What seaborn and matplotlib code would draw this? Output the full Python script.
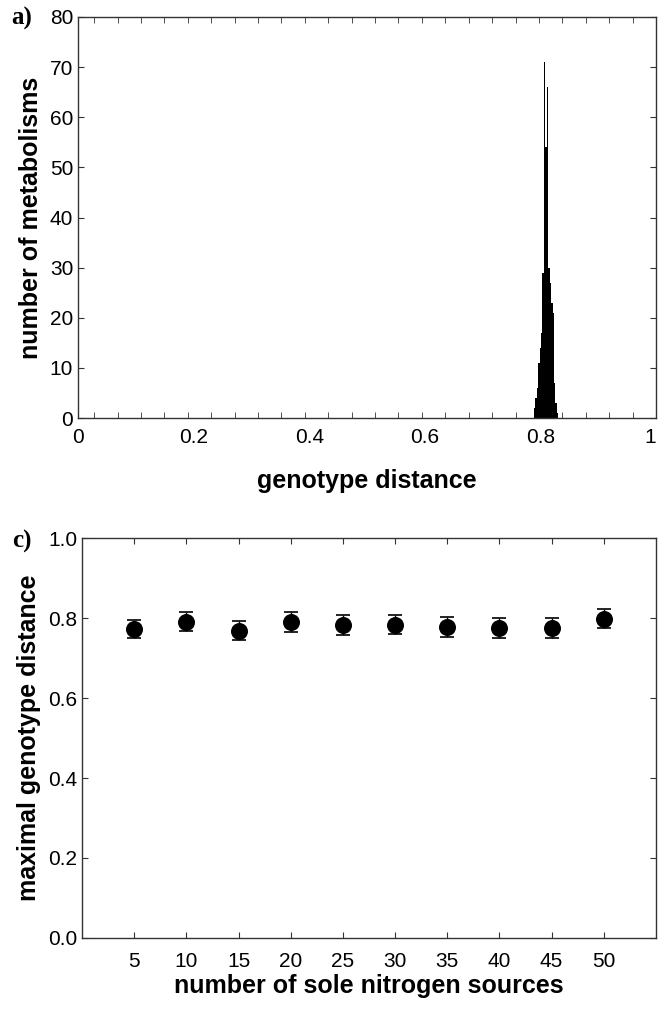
import numpy as np
import pandas as pd
import matplotlib.pyplot as plt
import seaborn as sns

# panel a) histogram of genotype distances (bin centres read off the picture)
bin_centers = [0.78975, 0.79225, 0.79475, 0.79725, 0.79975, 0.80225, 0.80475,
               0.80725, 0.80975, 0.81225, 0.81475, 0.81725, 0.81975, 0.82225,
               0.82475, 0.82725, 0.82975]
bin_counts = [2, 4, 6, 11, 14, 17, 29, 71, 54, 66, 30, 27, 23, 21, 7, 3, 1]
bin_width = 0.0025

# panel c) maximal genotype distance vs number of sole nitrogen sources
n_sources = [5, 10, 15, 20, 25, 30, 35, 40, 45, 50]
max_dist = [0.772, 0.791, 0.768, 0.791, 0.783, 0.783, 0.777, 0.775, 0.775, 0.798]
max_dist_err = [0.023, 0.024, 0.024, 0.025, 0.025, 0.024, 0.025, 0.024, 0.025, 0.024]

top_xticks = [0, 0.2, 0.4, 0.6, 0.8, 1.0]
top_xticklabels = ["0", "0.2", "0.4", "0.6", "0.8", "1"]

sns.set_style("ticks")
plt.rcParams['font.family'] = ['Liberation Sans', 'DejaVu Sans']
plt.rcParams['text.color'] = 'black'
plt.rcParams['axes.labelcolor'] = 'black'

fig = plt.figure(figsize=(6.59, 10.10), dpi=100)
ax1 = fig.add_axes([0.1184, 0.5861, 0.8770, 0.3971])
ax2 = fig.add_axes([0.1244, 0.0713, 0.8710, 0.3960])

spine_color = "#333333"
tick_font = 15
label_font = 18
serif = ["Liberation Serif", "DejaVu Serif"]

# ---- panel a ----
hist_df = pd.DataFrame({"dist": bin_centers, "count": bin_counts})
lo = bin_centers[0] - bin_width / 2
hi = bin_centers[-1] + bin_width / 2
sns.histplot(data=hist_df, x="dist", weights="count", binwidth=bin_width,
             binrange=(lo, hi), color="black", alpha=1.0, linewidth=0, ax=ax1)
ax1.set_xlim(0, 1)
ax1.set_ylim(0, 80)
ax1.set_xticks(top_xticks)
ax1.set_xticklabels(top_xticklabels)
ax1.set_xticks(np.arange(1.0, 0.0, -0.0405), minor=True)
ax1.set_yticks(range(0, 81, 10))
ax1.tick_params(axis="x", which="major", length=0, pad=7, labelsize=tick_font,
                labelcolor="black")
ax1.tick_params(axis="x", which="minor", direction="in", length=4, top=True,
                bottom=True, color=spine_color)
ax1.tick_params(axis="y", which="major", direction="in", length=4, left=True,
                right=True, labelsize=tick_font, color=spine_color, labelcolor="black")
# keep the "1" inside the figure edge
ax1.get_xticklabels()[-1].set_horizontalalignment("right")
ax1.set_xlabel("genotype distance", fontsize=label_font, fontweight="bold", labelpad=16)
ax1.set_ylabel("number of metabolisms", fontsize=label_font, fontweight="bold", labelpad=5)

# ---- panel c ----
pts = pd.DataFrame({"n": n_sources, "d": max_dist})
ax2.errorbar(n_sources, max_dist, yerr=max_dist_err, fmt="none", ecolor="black",
             elinewidth=1.0, capsize=5, capthick=1.2, zorder=2)
sns.scatterplot(data=pts, x="n", y="d", color="black", s=150, edgecolor="black",
                linewidth=0, ax=ax2, zorder=3)
ax2.set_xlim(0, 55)
ax2.set_ylim(0, 1.0)
ax2.set_xticks(n_sources)
ax2.set_yticks([0.0, 0.2, 0.4, 0.6, 0.8, 1.0])
ax2.set_yticklabels(["0.0", "0.2", "0.4", "0.6", "0.8", "1.0"])
ax2.tick_params(axis="both", which="major", direction="in", length=4, top=True,
                right=True, labelsize=tick_font, color=spine_color, labelcolor="black")
ax2.tick_params(axis="x", pad=10)
ax2.set_xlabel("number of sole nitrogen sources", fontsize=label_font,
               fontweight="bold", labelpad=2)
ax2.set_ylabel("maximal genotype distance", fontsize=label_font, fontweight="bold",
               labelpad=5)

# panel letters
fig.text(22 / 659, 1 - 18 / 1010, "a)", fontsize=18, fontweight="bold", family=serif,
         ha="center", va="center")
fig.text(22 / 659, 1 - 541 / 1010, "c)", fontsize=18, fontweight="bold", family=serif,
         ha="center", va="center")

for ax in (ax1, ax2):
    for sp in ax.spines.values():
        sp.set_visible(True)
        sp.set_color(spine_color)
        sp.set_linewidth(1.0)

fig.savefig("out.png", dpi=100)
